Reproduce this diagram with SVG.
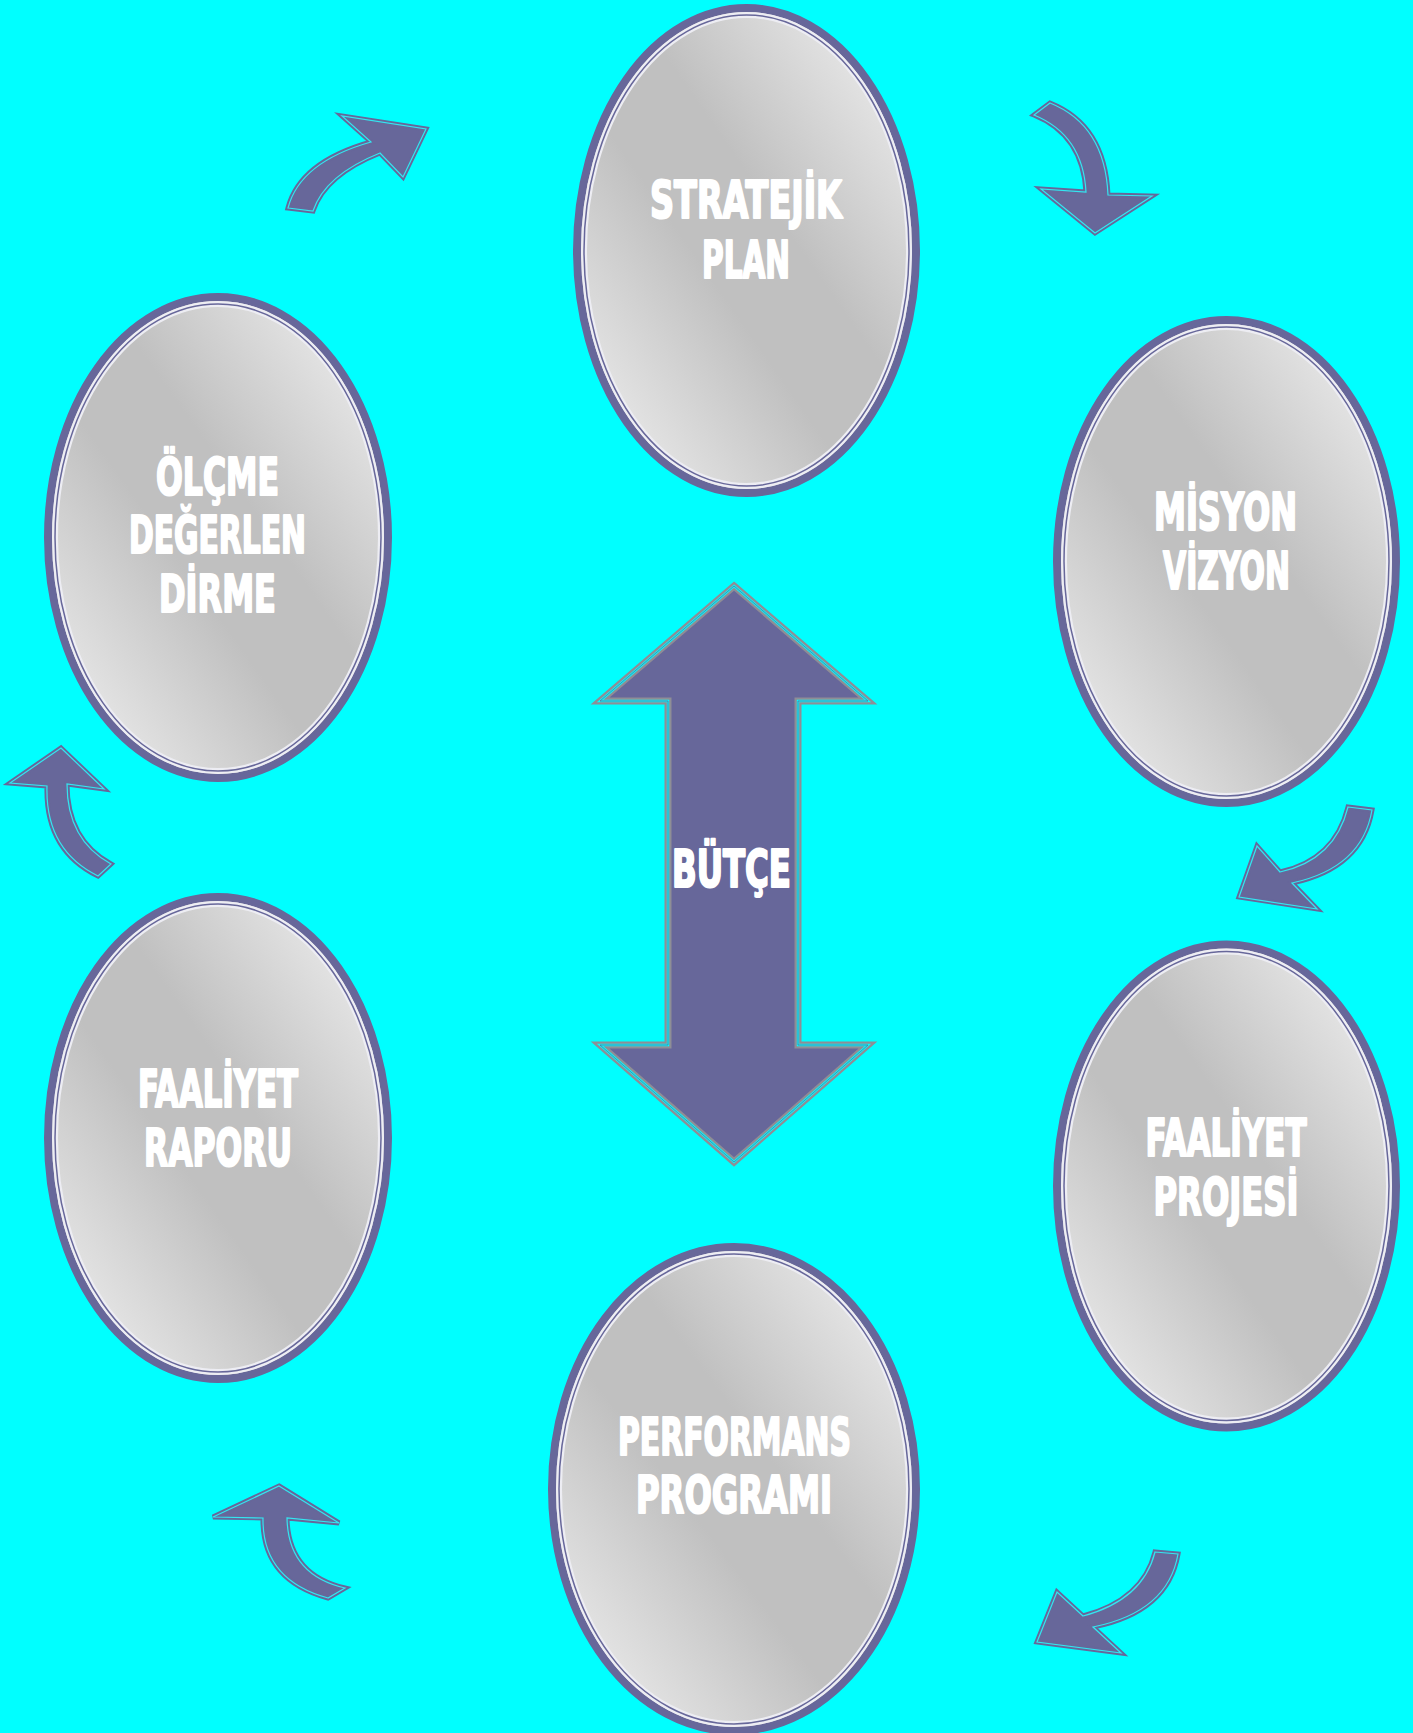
<svg xmlns="http://www.w3.org/2000/svg" xmlns:xlink="http://www.w3.org/1999/xlink" width="1413" height="1733" viewBox="0 0 1413 1733">
<style>
.bg{fill:#00FFFF}
.ring{fill:url(#silver);stroke:#67679A;stroke-width:8}
.ring2{fill:none;stroke:#EDEDF3;stroke-width:6}
.ring3{fill:none;stroke:#67679A;stroke-width:1.5}
.lbl{font-family:"Liberation Sans Narrow","DejaVu Sans Condensed","Liberation Sans",sans-serif;font-weight:bold;font-size:52px;fill:#FFFFFF;stroke:#FFFFFF;stroke-width:2.2;stroke-linejoin:round;text-anchor:middle}
.ca{fill:#67679A;stroke:#67679A;stroke-width:5;stroke-linejoin:miter}
.cl{fill:none;stroke:#33E6F0;stroke-width:1.2;stroke-linejoin:miter}
.big{fill:#67679A;stroke:#8E8E96;stroke-width:7}
.big2{fill:none;stroke:#00FFFF;stroke-width:2.4}
.big3{fill:none;stroke:#67679A;stroke-width:0.8}
</style>
<defs>
<linearGradient id="silver" x1="0" y1="1" x2="1" y2="0">
<stop offset="0" stop-color="#F6F6F6"/>
<stop offset="0.42" stop-color="#C0C0C0"/>
<stop offset="0.58" stop-color="#C0C0C0"/>
<stop offset="1" stop-color="#F6F6F6"/>
</linearGradient>
<path id="a1" d="M288,208 L313,211 Q325,175 380,153 L403,177 L426,129 L342,116 L371,142 Q300,162 288,208 Z"/>
<path id="a2" d="M1034,115 L1050,103 Q1105,125 1108,195 L1152,196 L1095,233 L1041,189 L1086,192 Q1083,135 1034,115 Z"/>
<path id="a3" d="M1348,807 L1372,810 Q1362,868 1292,883 L1317,909 L1239,897 L1257,846 L1280,872 Q1335,860 1348,807 Z"/>
<path id="a4" d="M1155,1552 L1178,1554 Q1168,1612 1093,1627 L1121,1653 L1037,1642 L1057,1592 L1083,1616 Q1143,1600 1155,1552 Z"/>
<path id="a5" d="M279,1486 L339,1523 L287,1518 Q288,1575 345,1588 L328,1598 Q262,1580 263,1518 L213,1517 Z"/>
<path id="a6" d="M61,748 L104,789 L67,784 Q67,840 111,864 L98,876 Q45,850 47,786 L10,783 Z"/>
<polygon id="bud" points="734,586 868,701 798,701 798,1045 868,1045 734,1162 600,1045 668,1045 668,701 600,701"/>
</defs>
<rect class="bg" x="0" y="0" width="1413" height="1733"/>

<g id="connectors">
<use xlink:href="#a1" class="ca"/><use xlink:href="#a1" class="cl"/>
<use xlink:href="#a2" class="ca"/><use xlink:href="#a2" class="cl"/>
<use xlink:href="#a3" class="ca"/><use xlink:href="#a3" class="cl"/>
<use xlink:href="#a4" class="ca"/><use xlink:href="#a4" class="cl"/>
<use xlink:href="#a5" class="ca"/><use xlink:href="#a5" class="cl"/>
<use xlink:href="#a6" class="ca"/><use xlink:href="#a6" class="cl"/>
</g>

<g id="butce">
<use xlink:href="#bud" class="big"/>
<use xlink:href="#bud" class="big2"/>
<use xlink:href="#bud" class="big3"/>
<text class="lbl" x="731.5" y="887" textLength="119" lengthAdjust="spacingAndGlyphs">BÜTÇE</text>
</g>

<g id="stratejik-plan">
<ellipse class="ring" cx="746.5" cy="250.5" rx="169.5" ry="242.5"/>
<ellipse class="ring2" cx="746.5" cy="250.5" rx="162.5" ry="235.5"/>
<ellipse class="ring3" cx="746.5" cy="250.5" rx="162.5" ry="235.5"/>
<text class="lbl" x="746" y="218" textLength="192" lengthAdjust="spacingAndGlyphs">STRATEJİK</text>
<text class="lbl" x="746" y="278" textLength="88" lengthAdjust="spacingAndGlyphs">PLAN</text>
</g>

<g id="misyon-vizyon">
<ellipse class="ring" cx="1226.5" cy="561.5" rx="169.5" ry="241.5"/>
<ellipse class="ring2" cx="1226.5" cy="561.5" rx="162.5" ry="234.5"/>
<ellipse class="ring3" cx="1226.5" cy="561.5" rx="162.5" ry="234.5"/>
<text class="lbl" x="1225.5" y="530" textLength="143" lengthAdjust="spacingAndGlyphs">MİSYON</text>
<text class="lbl" x="1226.5" y="589" textLength="127" lengthAdjust="spacingAndGlyphs">VİZYON</text>
</g>

<g id="faaliyet-projesi">
<ellipse class="ring" cx="1226.5" cy="1186" rx="169.5" ry="241.5"/>
<ellipse class="ring2" cx="1226.5" cy="1186" rx="162.5" ry="234.5"/>
<ellipse class="ring3" cx="1226.5" cy="1186" rx="162.5" ry="234.5"/>
<text class="lbl" x="1226" y="1156" textLength="161" lengthAdjust="spacingAndGlyphs">FAALİYET</text>
<text class="lbl" x="1226" y="1215" textLength="145" lengthAdjust="spacingAndGlyphs">PROJESİ</text>
</g>

<g id="performans-programi">
<ellipse class="ring" cx="734" cy="1489" rx="182" ry="242"/>
<ellipse class="ring2" cx="734" cy="1489" rx="175" ry="235"/>
<ellipse class="ring3" cx="734" cy="1489" rx="175" ry="235"/>
<text class="lbl" x="734.5" y="1455" textLength="233" lengthAdjust="spacingAndGlyphs">PERFORMANS</text>
<text class="lbl" x="734" y="1513" textLength="196" lengthAdjust="spacingAndGlyphs">PROGRAMI</text>
</g>

<g id="faaliyet-raporu">
<ellipse class="ring" cx="218" cy="1138" rx="170" ry="241"/>
<ellipse class="ring2" cx="218" cy="1138" rx="163" ry="234"/>
<ellipse class="ring3" cx="218" cy="1138" rx="163" ry="234"/>
<text class="lbl" x="218" y="1107" textLength="160" lengthAdjust="spacingAndGlyphs">FAALİYET</text>
<text class="lbl" x="218" y="1166" textLength="148" lengthAdjust="spacingAndGlyphs">RAPORU</text>
</g>

<g id="olcme-degerlendirme">
<ellipse class="ring" cx="218" cy="537.5" rx="170" ry="240.5"/>
<ellipse class="ring2" cx="218" cy="537.5" rx="163" ry="233.5"/>
<ellipse class="ring3" cx="218" cy="537.5" rx="163" ry="233.5"/>
<text class="lbl" x="217.5" y="495" textLength="123" lengthAdjust="spacingAndGlyphs">ÖLÇME</text>
<text class="lbl" x="217.5" y="553" textLength="177" lengthAdjust="spacingAndGlyphs">DEĞERLEN</text>
<text class="lbl" x="217.5" y="612" textLength="117" lengthAdjust="spacingAndGlyphs">DİRME</text>
</g>
</svg>
